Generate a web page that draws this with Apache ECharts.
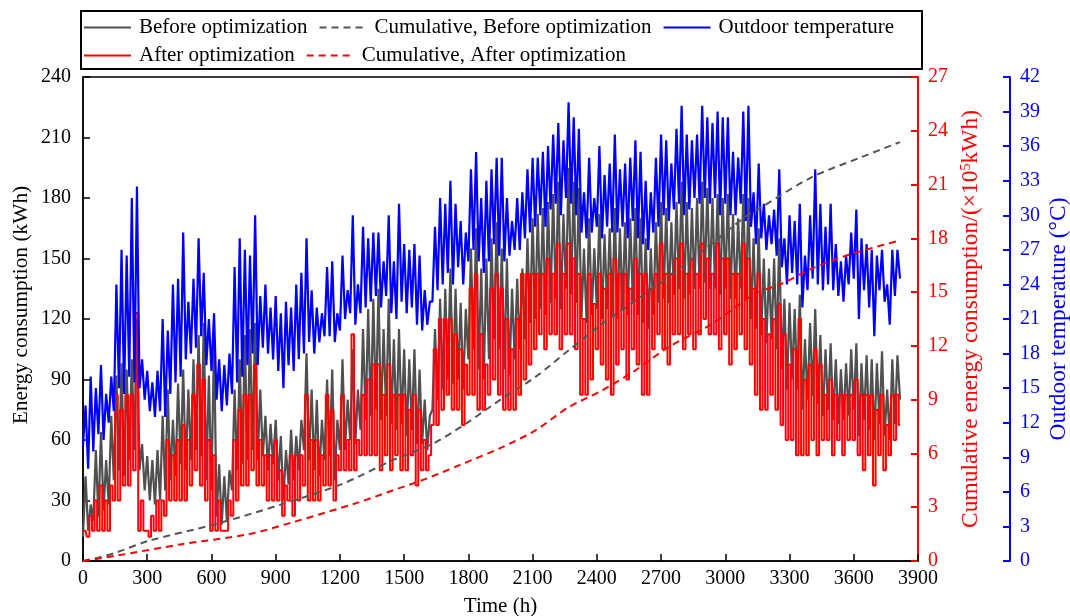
<!DOCTYPE html>
<html><head><meta charset="utf-8">
<script src="https://cdn.jsdelivr.net/npm/echarts@6/dist/echarts.min.js"></script>
<style>html,body{margin:0;padding:0;background:#fff}#c{width:1070px;height:616px}</style>
</head><body><div id="c"></div>
<script>
// hourly profile sampled every 12 h (night, day, night, day ...), t = 0 .. 3816 h
const stepHours = 12;
const beforeOpt = [
12,42, 15,28, 20,55, 22,64, 25,50, 28,72, 40,92, 45,98, 42,95, 50,100,
55,120, 45,58, 35,52, 30,50, 28,55, 30,72, 35,85, 40,70, 42,88, 48,95,
45,85, 50,100, 55,112, 52,118, 40,92, 35,110, 22,48, 18,42, 20,45, 35,85,
45,100, 48,112, 50,115, 55,118, 50,85, 52,72, 45,68, 48,70, 40,62, 30,55,
38,65, 40,62, 45,70, 55,103, 50,85, 45,80, 42,70, 50,90, 52,95, 40,70,
55,100, 55,80, 60,105, 58,85, 65,115, 70,125, 72,130, 75,135, 70,115, 72,130,
68,110, 65,115, 68,105, 62,100, 65,105, 58,95, 58,80, 55,72, 75,115, 80,130,
85,135, 90,145, 88,135, 90,128, 85,125, 100,155, 105,165, 95,145, 90,150, 100,160,
110,168, 105,155, 95,150, 92,135, 100,140, 105,145, 110,160, 118,170, 120,172, 125,175,
122,178, 128,182, 130,188, 125,172, 135,195, 132,188, 128,185, 120,155, 118,170, 122,155,
125,172, 120,162, 125,165, 122,175, 120,165, 125,168, 122,170, 128,175, 122,170, 118,160,
115,155, 122,168, 128,178, 130,175, 128,168, 132,178, 135,188, 130,178, 132,175, 135,180,
135,188, 138,185, 135,180, 135,182, 132,180, 135,182, 130,172, 130,170, 135,182, 130,180,
120,160, 115,165, 112,150, 108,145, 110,150, 105,160, 95,130, 85,128, 90,125, 85,132,
75,110, 80,118, 82,125, 78,112, 72,105, 75,108, 70,100, 68,95, 70,98, 72,105,
75,108, 62,98, 70,102, 65,100, 60,98, 68,104, 62,85, 60,100, 68,102,
80
];
const afterOpt = [
15,15, 12,22.5, 15,30, 15,37.5, 15,30, 15,37.5, 30,82.5, 30,75, 37.5,82.5, 37.5,82.5,
45,123, 15,30, 15,15, 12,22.5, 15,30, 15,30, 22.5,60, 30,52.5, 30,60, 30,67.5,
30,60, 37.5,82.5, 45,97.5, 37.5,90, 30,60, 15,52.5, 15,30, 15,15, 15,30, 22.5,60,
30,75, 37.5,82.5, 37.5,82.5, 45,97.5, 37.5,60, 37.5,52.5, 30,52.5, 30,60, 30,45, 22.5,37.5,
30,52.5, 22.5,52.5, 30,52.5, 37.5,82.5, 30,60, 30,60, 30,52.5, 37.5,82.5, 37.5,75, 30,52.5,
45,82.5, 45,60, 45,112.5, 45,60, 52.5,82.5, 52.5,90, 52.5,97.5, 52.5,97.5, 45,82.5, 52.5,97.5,
45,82.5, 52.5,82.5, 45,82.5, 45,75, 52.5,82.5, 37.5,75, 45,60, 45,52.5, 67.5,105, 67.5,120,
75,120, 82.5,120, 75,112.5, 75,105, 67.5,97.5, 82.5,135, 82.5,142.5, 75,112.5, 75,97.5, 82.5,135,
90,142.5, 82.5,135, 75,120, 75,105, 75,120, 82.5,142.5, 90,142.5, 97.5,142.5, 105,142.5, 112.5,142.5,
105,150, 112.5,142.5, 112.5,157.5, 105,142.5, 112.5,157.5, 112.5,150, 105,142.5, 82.5,120, 82.5,142.5, 90,127.5,
105,142.5, 97.5,135, 90,142.5, 82.5,150, 97.5,142.5, 105,142.5, 90,135, 105,150, 97.5,142.5, 82.5,142.5,
82.5,135, 105,142.5, 112.5,157.5, 105,142.5, 97.5,142.5, 112.5,150, 112.5,157.5, 105,142.5, 112.5,150, 105,142.5,
112.5,157.5, 120,150, 112.5,142.5, 112.5,157.5, 105,150, 112.5,150, 97.5,142.5, 105,142.5, 112.5,157.5, 105,150,
97.5,135, 82.5,142.5, 75,120, 75,112.5, 82.5,120, 75,127.5, 67.5,112.5, 60,97.5, 60,105, 52.5,120,
52.5,90, 52.5,97.5, 60,105, 52.5,97.5, 60,82.5, 60,90, 52.5,82.5, 60,82.5, 52.5,82.5, 60,82.5,
60,90, 52.5,82.5, 45,82.5, 52.5,82.5, 37.5,75, 52.5,82.5, 45,67.5, 52.5,82.5, 60,82.5,
67.5
];
const outdoorTemp = [
10.0,13.5, 8.0,16.0, 9.5,15.0, 11.0,17.0, 10.5,14.5, 12.0,16.0, 13.0,24.0, 15.0,27.0, 14.5,26.5, 16.0,31.5,
15.5,32.5, 15.0,17.5, 14.0,16.5, 13.0,15.5, 12.5,16.5, 13.0,21.0, 12.5,20.0, 14.5,24.0, 15.5,24.5, 16.0,28.5,
17.5,22.5, 18.0,24.5, 18.5,28.0, 19.5,25.0, 17.0,21.0, 16.5,21.5, 14.0,17.5, 13.0,17.0, 13.5,18.0, 14.5,25.5,
15.5,28.0, 16.0,27.0, 17.0,26.5, 18.0,30.0, 17.0,23.0, 18.5,24.0, 18.0,22.0, 17.5,23.0, 16.5,21.5, 15.0,22.5,
17.0,22.0, 16.5,24.0, 17.5,25.0, 18.0,28.0, 19.0,23.5, 18.0,22.0, 19.0,21.5, 19.5,25.5, 19.5,26.0, 19.0,21.5,
20.0,26.5, 21.0,23.5, 21.5,30.0, 20.5,24.0, 21.5,29.0, 22.0,28.0, 22.5,28.5, 23.0,28.5, 22.0,26.0, 23.0,30.0,
21.5,26.0, 21.0,31.0, 22.5,27.5, 21.5,27.0, 22.0,27.5, 20.5,26.5, 20.0,23.5, 20.5,22.5, 22.5,29.0, 23.5,31.5,
24.0,31.0, 25.0,33.0, 24.0,31.0, 25.5,29.5, 24.0,28.5, 26.0,34.0, 27.0,35.5, 26.0,31.5, 25.0,33.0, 26.0,34.0,
27.5,35.0, 26.5,35.0, 26.0,31.5, 26.5,29.5, 27.0,31.5, 27.0,32.0, 28.0,34.0, 28.5,35.0, 29.0,35.0, 30.0,35.5,
29.0,36.0, 30.5,37.0, 31.0,38.0, 30.0,36.5, 31.5,39.8, 31.0,38.5, 30.0,37.5, 28.5,32.0, 28.0,35.0, 28.5,31.5,
29.0,36.0, 28.0,33.5, 29.0,34.5, 28.5,37.0, 28.5,34.0, 29.0,34.5, 28.0,35.0, 29.5,36.5, 28.0,35.5, 27.5,33.0,
27.0,32.0, 28.5,35.0, 29.0,37.0, 30.0,36.5, 29.5,34.5, 30.5,37.5, 31.0,39.5, 30.0,37.0, 30.5,36.5, 31.5,37.0,
31.0,39.5, 31.5,38.5, 31.0,38.0, 31.5,39.0, 30.0,38.5, 31.0,38.5, 30.0,35.5, 30.0,35.0, 31.0,39.0, 29.5,39.5,
29.0,32.0, 27.5,34.5, 28.0,31.0, 27.0,30.0, 27.5,30.5, 26.5,34.0, 25.5,28.0, 24.0,30.0, 25.0,29.5, 24.0,31.0,
22.0,26.5, 23.5,30.0, 24.5,34.0, 24.0,31.0, 23.5,29.0, 24.0,31.0, 23.5,27.5, 23.0,26.0, 22.5,26.5, 24.0,28.5,
24.5,30.5, 21.0,28.0, 23.5,27.5, 22.0,27.0, 19.5,26.5, 23.5,27.0, 22.5,24.0, 20.5,27.0, 23.0,27.0,
24.5
];
// cumulative consumption (x10^5 kWh)
const cumHoursBefore = [0, 75, 150, 308, 620, 930, 1209, 1442, 1630, 1785, 1956, 2111, 2267, 2422, 2578, 2733, 2936, 3091, 3169, 3402, 3636, 3816];
const cumBefore = [0, 0.2, 0.45, 1.13, 2.06, 3.17, 4.29, 5.6, 6.52, 7.64, 9.05, 10.25, 11.74, 13.2, 14.5, 15.83, 17.7, 19.18, 19.74, 21.4, 22.53, 23.37];
const cumHoursAfter = [0, 152, 463, 775, 976, 1287, 1442, 1598, 1753, 1956, 2111, 2267, 2422, 2578, 2733, 2936, 3138, 3262, 3402, 3589, 3816];
const cumAfter = [0, 0.29, 0.94, 1.5, 2.15, 3.27, 3.92, 4.57, 5.32, 6.34, 7.27, 8.57, 9.5, 10.62, 11.92, 13.22, 14.9, 15.46, 16.3, 17.13, 17.88];

const FONT = 'Liberation Serif';
const pair = (arr) => arr.map((v, i) => [i * stepHours, v]);
const zipXY = (xs, ys) => xs.map((x, i) => [x, ys[i]]);
const plain = (v) => String(v);

const chart = echarts.init(document.getElementById('c'), null, {renderer: 'canvas'});
const legendBase = {
  left: 83, itemWidth: 47, itemHeight: 14, itemGap: 11, padding: 0,
  itemStyle: {opacity: 0},
  textStyle: {fontSize: 21, fontFamily: FONT, color: '#000', padding: [0, 0, 0, 3]},
  selectedMode: false
};
chart.setOption({
  animation: false,
  backgroundColor: '#fff',
  grid: {left: 83, right: 152, top: 77, bottom: 55, show: true, borderColor: '#000', borderWidth: 1.5,
    containLabel: false, outerBoundsMode: 'none'},
  graphic: [{type: 'rect', shape: {x: 81, y: 11, width: 841, height: 58}, style: {fill: 'none', stroke: '#000', lineWidth: 2}}],
  legend: [
    Object.assign({}, legendBase, {top: 17, data: ['Before optimization', 'Cumulative, Before optimization', 'Outdoor temperature']}),
    Object.assign({}, legendBase, {top: 45, data: ['After optimization', 'Cumulative, After optimization']})
  ],
  xAxis: {
    type: 'value', min: 0, max: 3900, interval: 300,
    axisLine: {show: true, lineStyle: {color: '#000', width: 1.5}},
    axisTick: {show: true, inside: true, length: 7, lineStyle: {color: '#000', width: 1.5}},
    axisLabel: {color: '#000', fontSize: 20, fontFamily: FONT, margin: 8, formatter: plain},
    splitLine: {show: false},
    name: 'Time (h)', nameLocation: 'middle', nameGap: 35, nameMoveOverlap: false,
    nameTextStyle: {fontSize: 21, fontFamily: FONT, color: '#000'}
  },
  yAxis: [
    {
      type: 'value', position: 'left', min: 0, max: 240, interval: 30,
      axisLine: {show: true, lineStyle: {color: '#000', width: 1.5}},
      axisTick: {show: true, inside: true, length: 7, lineStyle: {color: '#000', width: 1.5}},
      axisLabel: {color: '#000', fontSize: 20, fontFamily: FONT, margin: 12, formatter: plain},
      splitLine: {show: false},
      name: 'Energy consumption (kWh)', nameLocation: 'middle', nameRotate: 90, nameGap: 51, nameMoveOverlap: false,
      nameTextStyle: {fontSize: 21.4, fontFamily: FONT, color: '#000', padding: [0, 0, 0, 28]}
    },
    {
      type: 'value', position: 'right', min: 0, max: 27, interval: 3,
      axisLine: {show: true, lineStyle: {color: '#ff0000', width: 2}},
      axisTick: {show: true, inside: true, length: 7, lineStyle: {color: '#ff0000', width: 2}},
      axisLabel: {color: '#ff0000', fontSize: 20, fontFamily: FONT, margin: 10, formatter: plain},
      splitLine: {show: false},
      name: 'Cumulative energy consumption/(×10{s|5}kWh)', nameLocation: 'middle', nameRotate: 90, nameGap: 41, nameMoveOverlap: false,
      nameTextStyle: {fontSize: 23.5, fontFamily: FONT, color: '#ff0000',
        rich: {s: {fontSize: 14, fontFamily: FONT, color: '#ff0000', verticalAlign: 'top', padding: [0, 0, 7, 0]}}}
    },
    {
      type: 'value', position: 'right', offset: 92, min: 0, max: 42, interval: 3,
      axisLine: {show: true, lineStyle: {color: '#0000ff', width: 2}},
      axisTick: {show: true, inside: true, length: 7, lineStyle: {color: '#0000ff', width: 2}},
      axisLabel: {color: '#0000ff', fontSize: 20, fontFamily: FONT, margin: 10, formatter: plain},
      splitLine: {show: false},
      name: 'Outdoor temperature (°C)', nameLocation: 'middle', nameRotate: 90, nameGap: 37, nameMoveOverlap: false,
      nameTextStyle: {fontSize: 23.5, fontFamily: FONT, color: '#0000ff'}
    }
  ],
  series: [
    {name: 'Before optimization', type: 'line', yAxisIndex: 0, data: pair(beforeOpt), showSymbol: false, symbol: 'none',
      itemStyle: {color: '#505050'}, lineStyle: {color: '#505050', width: 2.2}},
    {name: 'After optimization', type: 'line', yAxisIndex: 0, data: pair(afterOpt), showSymbol: false, symbol: 'none', step: 'middle',
      itemStyle: {color: '#ff0000'}, lineStyle: {color: '#ff0000', width: 2}},
    {name: 'Outdoor temperature', type: 'line', yAxisIndex: 2, data: pair(outdoorTemp), showSymbol: false, symbol: 'none',
      itemStyle: {color: '#0000ff'}, lineStyle: {color: '#0000ff', width: 2.2}},
    {name: 'Cumulative, Before optimization', type: 'line', yAxisIndex: 1, data: zipXY(cumHoursBefore, cumBefore), smooth: 0.3,
      showSymbol: false, symbol: 'none', itemStyle: {color: '#555555'}, lineStyle: {color: '#555555', width: 2, type: [7, 5]}},
    {name: 'Cumulative, After optimization', type: 'line', yAxisIndex: 1, data: zipXY(cumHoursAfter, cumAfter), smooth: 0.3,
      showSymbol: false, symbol: 'none', itemStyle: {color: '#ff0000'}, lineStyle: {color: '#ff0000', width: 2, type: [7, 5]}}
  ]
});
</script></body></html>
